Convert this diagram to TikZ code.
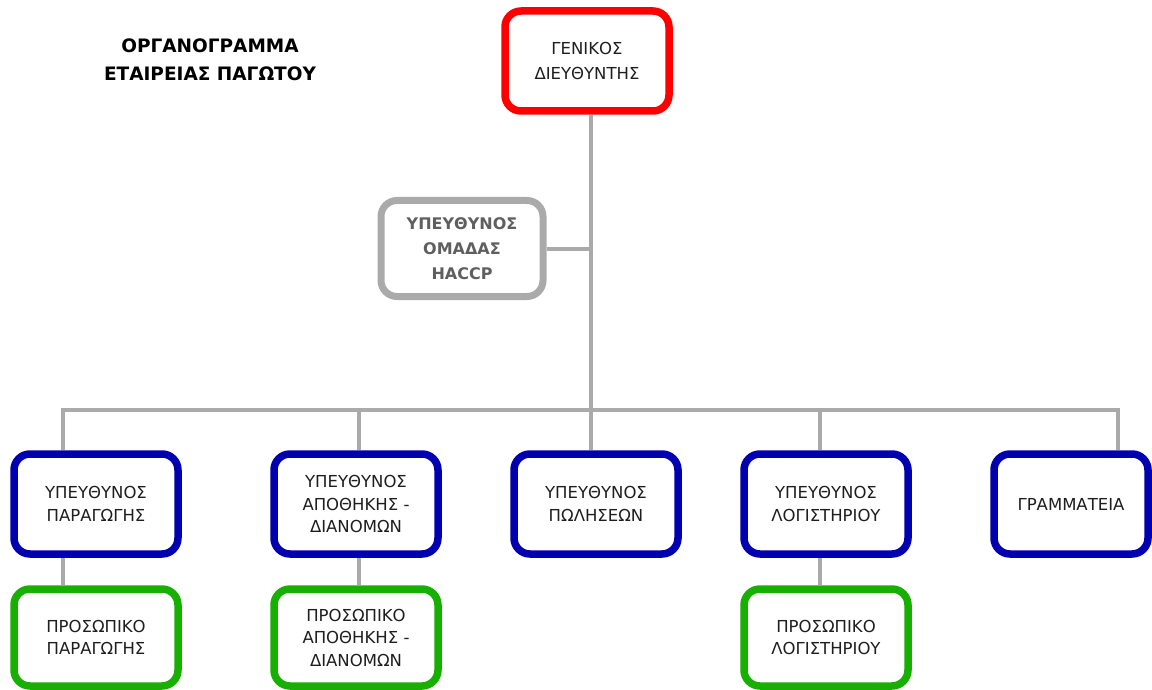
\documentclass[tikz,border=0pt]{standalone}
\usepackage{fontspec}
\setmainfont{DejaVu Sans}
\definecolor{cred}{RGB}{255,0,0}
\definecolor{cblue}{RGB}{0,0,176}
\definecolor{cgreen}{RGB}{24,176,0}
\definecolor{cgray}{RGB}{170,170,170}
\definecolor{ctext}{RGB}{30,30,30}
\definecolor{chaccp}{RGB}{95,95,95}
\tikzset{
  orgbox/.style={draw, line width=7.5pt, rounded corners=16pt, fill=white,
    minimum width=164pt, minimum height=100pt, align=center, inner sep=0pt,
    text=ctext, font=\fontsize{16.5}{22.5}\selectfont},
  redbox/.style={orgbox, draw=cred, font=\fontsize{16.5}{25}\selectfont},
  bluebox/.style={orgbox, draw=cblue},
  greenbox/.style={orgbox, draw=cgreen, minimum height=97pt},
  graybox/.style={orgbox, draw=cgray, line width=7pt, minimum width=162pt, minimum height=96pt,
    text=chaccp, font=\bfseries\fontsize{16}{25}\selectfont},
  conn/.style={draw=cgray, line width=4pt},
  titletext/.style={align=center, font=\bfseries\fontsize{18.5}{28}\selectfont, text=black}
}
\begin{document}
\begin{tikzpicture}[x=1pt,y=-1pt]
\useasboundingbox (0,0) rectangle (1152,690);
% nodes
\node[titletext] (title) at (210,60) {ΟΡΓΑΝΟΓΡΑΜΜΑ\\ΕΤΑΙΡΕΙΑΣ ΠΑΓΩΤΟΥ};
\node[redbox] (gd) at (587,61) {ΓΕΝΙΚΟΣ\\ΔΙΕΥΘΥΝΤΗΣ};
\node[graybox] (haccp) at (462,248.5) {ΥΠΕΥΘΥΝΟΣ\\ΟΜΑΔΑΣ\\HACCP};
\node[bluebox] (b1) at (96,504) {ΥΠΕΥΘΥΝΟΣ\\ΠΑΡΑΓΩΓΗΣ};
\node[bluebox] (b2) at (356,504) {ΥΠΕΥΘΥΝΟΣ\\ΑΠΟΘΗΚΗΣ -\\ΔΙΑΝΟΜΩΝ};
\node[bluebox] (b3) at (596,504) {ΥΠΕΥΘΥΝΟΣ\\ΠΩΛΗΣΕΩΝ};
\node[bluebox] (b4) at (826,504) {ΥΠΕΥΘΥΝΟΣ\\ΛΟΓΙΣΤΗΡΙΟΥ};
\node[bluebox, minimum width=154pt] (b5) at (1071,504) {ΓΡΑΜΜΑΤΕΙΑ};
\node[greenbox] (g1) at (96,637.5) {ΠΡΟΣΩΠΙΚΟ\\ΠΑΡΑΓΩΓΗΣ};
\node[greenbox] (g2) at (356,637.5) {ΠΡΟΣΩΠΙΚΟ\\ΑΠΟΘΗΚΗΣ -\\ΔΙΑΝΟΜΩΝ};
\node[greenbox] (g4) at (826,637.5) {ΠΡΟΣΩΠΙΚΟ\\ΛΟΓΙΣΤΗΡΙΟΥ};
% bus coordinates
\coordinate (d1) at (63,410);
\coordinate (d2) at (359,410);
\coordinate (d3) at (591,410);
\coordinate (d4) at (820,410);
\coordinate (d5) at (1118,410);
% connectors
\path[conn] (d3 |- gd.south) -- (d3);
\path[conn] (haccp.east) -- (haccp.east -| d3);
\path[conn] (d1 |- b1.north) -- (d1) -- (d5) -- (d5 |- b5.north);
\path[conn] (d2) -- (d2 |- b2.north);
\path[conn] (d3) -- (d3 |- b3.north);
\path[conn] (d4) -- (d4 |- b4.north);
\path[conn] (d1 |- b1.south) -- (d1 |- g1.north);
\path[conn] (d2 |- b2.south) -- (d2 |- g2.north);
\path[conn] (d4 |- b4.south) -- (d4 |- g4.north);
\end{tikzpicture}
\end{document}
